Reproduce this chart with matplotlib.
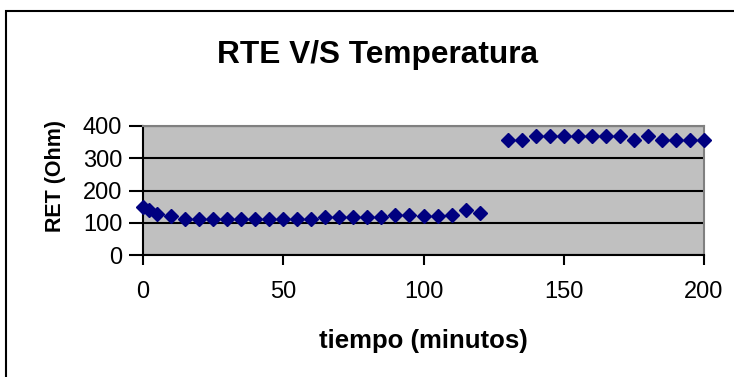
import matplotlib
matplotlib.use("Agg")
import matplotlib.pyplot as plt
from matplotlib.patches import Rectangle

plt.rcParams['font.family'] = ['Liberation Sans', 'DejaVu Sans']

# tiempo (minutos) y resistencia medida (Ohm)
tiempo = [0, 2, 5, 10, 15, 20, 25, 30, 35, 40, 45, 50, 55, 60, 65, 70, 75, 80,
          85, 90, 95, 100, 105, 110, 115, 120,
          130, 135, 140, 145, 150, 155, 160, 165, 170, 175, 180, 185, 190, 195, 200]
ret = [149, 141, 126, 120, 113, 113, 113, 113, 113, 113, 113, 113, 113, 113,
       119, 119, 119, 119, 119, 125, 125, 120, 120, 125, 138, 130,
       356, 356, 370, 370, 370, 370, 370, 370, 370, 356, 370, 356, 356, 356, 356]

x_ticks = [0, 50, 100, 150, 200]
y_ticks = [0, 100, 200, 300, 400]

W, H = 734, 377
fig = plt.figure(figsize=(W / 100, H / 100), dpi=100)
fig.patch.set_facecolor('white')

# marco exterior del grafico
fig.patches.append(Rectangle((6 / W, -0.2), 1.5, 1.2 - 11 / H,
                             transform=fig.transFigure, fill=False,
                             edgecolor='black', linewidth=1.5, clip_on=False))

ax = fig.add_axes([143 / W, 1 - 255 / H, (704 - 143) / W, (255 - 126) / H])
ax.set_facecolor('#C0C0C0')

ax.plot(tiempo, ret, linestyle='none', marker='D', markersize=7.5,
        color='#000080', markeredgecolor='#000080', clip_on=False, zorder=3)

ax.set_xlim(0, 200)
ax.set_ylim(0, 400)
ax.set_xticks(x_ticks)
ax.set_yticks(y_ticks)
ax.yaxis.grid(True, color='black', linewidth=1.5)
ax.set_axisbelow(True)

for side in ['top', 'right']:
    ax.spines[side].set_color('#808080')
    ax.spines[side].set_linewidth(1.5)
for side in ['left', 'bottom']:
    ax.spines[side].set_color('black')
    ax.spines[side].set_linewidth(1.5)

ax.tick_params(axis='x', direction='out', length=7, width=1.5, pad=12,
               labelsize=17)
ax.tick_params(axis='y', direction='out', length=10, width=1.5, pad=5,
               labelsize=17)

fig.text(378 / W, 1 - 63 / H, 'RTE V/S Temperatura', ha='center',
         va='baseline', fontsize=22.8, fontweight='bold')
fig.text(423 / W, 1 - 348 / H, 'tiempo (minutos)', ha='center',
         va='baseline', fontsize=18.5, fontweight='bold')
fig.text(55 / W, 1 - 176 / H, 'RET (Ohm)', ha='center', va='center',
         rotation=90, fontsize=15.5, fontweight='bold')

fig.savefig('out.png', dpi=100)
